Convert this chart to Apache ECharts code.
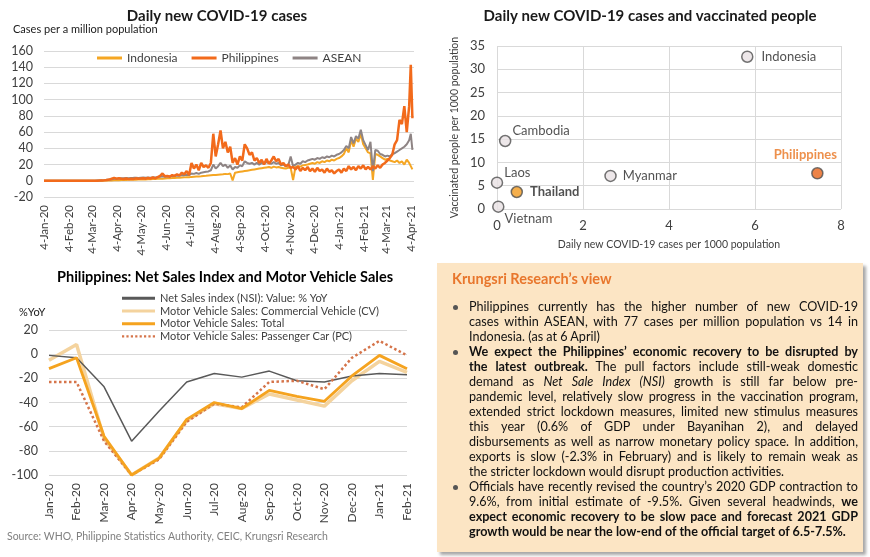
<!DOCTYPE html>
<html><head><meta charset="utf-8">
<script src="https://cdn.jsdelivr.net/npm/echarts@6/dist/echarts.min.js"></script>
<style>
html,body{margin:0;padding:0;background:#fff;width:870px;height:557px;overflow:hidden;}
#chart{position:absolute;left:0;top:0;width:870px;height:557px;}
#box{position:absolute;left:437px;top:263px;width:426px;height:289px;background:#FCE5C4;box-shadow:3px 3px 3px rgba(0,0,0,0.35);font-family:Lato,'Noto Sans',sans-serif;color:#111;}
#box .ttl{position:absolute;left:15px;top:7px;font-size:14.5px;font-weight:bold;color:#E8762C;white-space:nowrap;}
#box .body{position:absolute;left:32px;top:36px;width:389px;}
#box .ln{height:15px;line-height:15px;text-align:justify;text-align-last:justify;position:relative;}
#box .ln.end{text-align-last:left;}
#box .ln.bul::before{content:'';position:absolute;left:-16px;top:6px;width:5px;height:5px;border-radius:50%;background:#555;}
</style></head>
<body>
<div id="chart"></div>
<div id="box"><div class="ttl">Krungsri Research’s view</div><div class="body" id="body"></div></div>
<script>
// ---------- Daily new COVID-19 cases (per million) ----------
const covidDays = [0,3,6,9,12,15,18,21,24,27,30,33,36,39,42,45,48,51,54,57,60,63,66,69,72,75,78,81,84,87,90,93,96,99,102,105,108,111,114,117,120,123,126,129,132,135,138,141,144,147,150,153,156,159,162,165,168,171,174,177,180,183,186,189,192,195,198,201,204,207,210,213,216,219,222,225,228,231,234,237,240,243,246,249,252,255,258,261,264,267,270,273,276,279,282,285,288,291,294,297,300,303,306,309,312,315,318,321,324,327,330,333,336,339,342,345,348,351,354,357,360,363,366,369,372,375,378,381,384,387,390,393,396,399,402,405,408,411,414,417,420,423,426,429,432,435,438,441,444,447,450,453,455,457];
const indonesia = [0,0,0,0,0,0,0,0,0,0,0,0,0,0,0,0,0,0,0,0,
0,0,0,0.1,0.1,0.2,0.3,0.3,0.4,0.5,0.6,0.7,1,0.9,1,1.2,1.3,1.2,1.4,1.5,1.6,1.8,1.7,2,1.9,2.1,2.3,2.4,2.6,2.5,2.8,3,3.2,3.3,3.5,3.6,3.8,4,4.2,4.5,4.3,4.8,5,5.2,5.4,5.6,6,6.2,6.5,6.8,7,7.2,7.5,7.8,8,8.5,8.2,9,0.5,10,10.5,11,11.5,12,12.5,13,13.5,14,14.5,15,15.5,16,16.5,17,16,17.5,16.5,17,16,15.5,15,16,16,1,17,18,17.5,19,19.5,20,21,22,21,23,22,24,23,25,24,26,25,27,28,30,33,40,35,50,42,52,48,58,45,40,35,34,1,33,32,30,28,26,27,25,24,23,25,22,24,20,26,22,18,14];
const philippines = [0,0,0,0,0,0,0,0,0,0,0,0,0,0,0,0,0,0,0,0,
0,0,0.1,0.2,0.3,0.5,1,1.5,2.5,3.5,2.5,3,2.5,2.2,2.8,2,2.5,2.2,3,2.4,2.8,3.2,2.5,3.5,2.8,4,3,4.5,6,9,5.5,6,5,7,6,8,6.5,10,8,12,7,22,15,20,13,22,17,19,16,22,58,30,45,62,40,48,35,42,22,28,20,30,25,45,40,32,35,25,28,22,26,20,27,21,25,30,24,27,20,22,18,20,16,17,14,18,12,16,13,17,12,15,11,16,12,14,10,15,11,13,9,12,14,10,15,12,18,14,17,13,18,15,19,14,17,14,18,15,19,16,20,22,25,28,32,45,50,75,70,92,60,92,143,77];
const asean = [0,0,0,0,0,0,0,0,0,0,0,0,0,0,0,0,0,0,0,0,
0,0.1,0.2,0.3,0.5,0.8,1.2,1.5,2,2.5,2.5,2.8,3,3.2,3.3,3.2,3.5,3.6,3.8,3.5,3.7,3.9,3.6,4,3.8,4.2,4,4.5,5,5.5,5,5.5,5.2,6,5.8,6.5,6.2,7,6.8,7.5,7,9,8.5,9.5,8.5,10,10.5,11,11.5,13,20,15,18,22,18,20,16,19,14,17,16,19,18,24,22,21,22,20,22,20,22,21,23,22,21,23,21,22,19,20,18,19,30,18,20,22,21,24,23,25,26,27,26,28,27,29,28,30,29,31,30,32,33,35,38,43,40,54,46,55,52,63,50,44,38,48,12,38,37,33,32,30,31,30,33,34,36,38,40,42,45,50,58,38];
const covidTickDays = [0,31,60,91,121,152,182,213,244,274,305,335,366,397,425,456];
const covidTickLabels = ['4-Jan-20','4-Feb-20','4-Mar-20','4-Apr-20','4-May-20','4-Jun-20','4-Jul-20','4-Aug-20','4-Sep-20','4-Oct-20','4-Nov-20','4-Dec-20','4-Jan-21','4-Feb-21','4-Mar-21','4-Apr-21'];

// ---------- Scatter: cases vs vaccinated ----------
const scatterNames = ['Indonesia','Cambodia','Laos','Thailand','Vietnam','Myanmar','Philippines'];
const scatterCases = [5.82,0.19,0.0,0.46,0.03,2.64,7.45];
const scatterVacc = [32.7,14.6,5.65,3.65,0.5,7.1,7.67];

// ---------- Philippines NSI & motor vehicle sales ----------
const months = ['Jan-20','Feb-20','Mar-20','Apr-20','May-20','Jun-20','Jul-20','Aug-20','Sep-20','Oct-20','Nov-20','Dec-20','Jan-21','Feb-21'];
const nsi = [-1,-3,-27,-72,-47,-23,-16,-19,-14,-22,-23,-18,-16,-17];
const cvSales = [-5,8,-70,-100,-86,-55,-41,-45,-33,-38,-43,-22,-6,-15];
const totalSales = [-12,-3,-68,-100,-86,-54,-40,-45,-30,-35,-39,-18,-1,-12];
const pcSales = [-23,-23,-72,-100,-87,-56,-41,-44,-23,-22,-29,-3,11,-1];

const FONT = 'Lato';
const GRID_C = '#D9D9D9';
const TXT = '#404040';

const scatterStyle = {
  Indonesia:  {fill:'#E9E1E3', label:{position:'right', offset:[3,0]}},
  Cambodia:   {fill:'#E9E1E3', label:{position:'right', offset:[-4,-10]}},
  Laos:       {fill:'#E9E1E3', label:{position:'right', offset:[-4,-10]}},
  Thailand:   {fill:'#F39B1F', label:{position:'right', offset:[2,0], fontWeight:'bold'}},
  Vietnam:    {fill:'#E9E1E3', label:{position:'right', offset:[-5,12]}},
  Myanmar:    {fill:'#E9E1E3', label:{position:'right', offset:[1,0]}},
  Philippines:{fill:'#E8641A', label:{position:'top', offset:[-12,-1], fontWeight:'bold', color:'#E8741F'}}
};

const chart = echarts.init(document.getElementById('chart'), null, {renderer:'canvas'});
const line = (name, xi, yi, vals, color, width, z, type) => ({
  name, type:'line', xAxisIndex:xi, yAxisIndex:yi, data: vals, showSymbol:false, symbol:'none',
  lineStyle:{color, width, type: type || 'solid'}, itemStyle:{color}, z, animation:false
});
const DOTTED_ICON = 'path://M0,0h2v2h-2zM4,0h2v2h-2zM8,0h2v2h-2zM12,0h2v2h-2zM16,0h2v2h-2zM20,0h2v2h-2zM24,0h2v2h-2zM28,0h2v2h-2z';

const option = {
  animation:false,
  textStyle:{fontFamily:FONT},
  grid:[
    {left:44, top:51, width:370, height:146},
    {left:497, top:46, width:344, height:163},
    {left:49, top:330, width:358, height:145}
  ],
  xAxis:[
    {gridIndex:0, type:'value', min:0, max:459,
     axisLine:{show:false}, axisTick:{show:false}, splitLine:{show:false},
     axisLabel:{customValues:covidTickDays, formatter:(v)=>covidTickLabels[covidTickDays.indexOf(v)], rotate:90, fontSize:11.5, color:TXT, margin:8, fontFamily:FONT}},
    {gridIndex:1, type:'value', min:0, max:8, interval:2,
     axisLine:{show:false}, axisTick:{show:false}, splitLine:{show:true, lineStyle:{color:GRID_C}},
     axisLabel:{fontSize:13, color:TXT, margin:10, fontFamily:FONT},
     name:'Daily new COVID-19 cases per 1000 population', nameLocation:'middle', nameGap:30,
     nameTextStyle:{fontSize:10.5, color:TXT, fontFamily:FONT}},
    {gridIndex:2, type:'category', data:months, boundaryGap:false,
     axisLine:{show:false}, axisTick:{show:false},
     axisLabel:{rotate:90, interval:0, fontSize:12, color:TXT, margin:8, fontFamily:FONT}}
  ],
  yAxis:[
    {gridIndex:0, type:'value', min:-20, max:160, interval:20,
     axisLine:{show:false}, axisTick:{show:false}, splitLine:{lineStyle:{color:GRID_C}},
     axisLabel:{fontSize:12.5, color:TXT, margin:11, fontFamily:FONT}},
    {gridIndex:1, type:'value', min:0, max:35, interval:5,
     axisLine:{show:false}, axisTick:{show:false}, splitLine:{lineStyle:{color:GRID_C}},
     axisLabel:{fontSize:13, color:TXT, margin:12, fontFamily:FONT},
     name:'Vaccinated people per 1000 population', nameLocation:'middle', nameGap:37, nameRotate:90,
     nameTextStyle:{fontSize:10.5, color:TXT, fontFamily:FONT}},
    {gridIndex:2, type:'value', min:-100, max:20, interval:20,
     axisLine:{show:false}, axisTick:{show:false}, splitLine:{lineStyle:{color:GRID_C}},
     axisLabel:{fontSize:12.5, color:TXT, margin:11, fontFamily:FONT}}
  ],
  legend:[
    {data:['Indonesia','Philippines','ASEAN'], left:97, top:52, padding:0, itemWidth:25, itemHeight:3, itemGap:14, icon:'rect',
     selectedMode:false, textStyle:{fontSize:12, color:TXT, fontFamily:FONT}},
    {data:[
       {name:'Net Sales index (NSI): Value: % YoY', icon:'rect'},
       {name:'Motor Vehicle Sales: Commercial Vehicle (CV)', icon:'rect'},
       {name:'Motor Vehicle Sales: Total', icon:'rect'},
       {name:'Motor Vehicle Sales: Passenger Car (PC)', icon:DOTTED_ICON}],
     orient:'vertical', left:122, top:292, padding:0, itemWidth:33, itemHeight:3, itemGap:0,
     selectedMode:false, textStyle:{fontSize:11, lineHeight:12.7, color:TXT, fontFamily:FONT}}
  ],
  graphic:[
    {type:'text', x:217, y:16, style:{text:'Daily new COVID-19 cases', align:'center', verticalAlign:'middle', fontSize:15, fontWeight:'bold', fontFamily:FONT, fill:'#1a1a1a'}},
    {type:'text', x:13, y:29, style:{text:'Cases per a million population', align:'left', verticalAlign:'middle', fontSize:11, fontFamily:FONT, fill:'#1a1a1a'}},
    {type:'text', x:650, y:16, style:{text:'Daily new COVID-19 cases and vaccinated people', align:'center', verticalAlign:'middle', fontSize:15, fontWeight:'bold', fontFamily:FONT, fill:'#1a1a1a'}},
    {type:'text', x:225, y:277, style:{text:'Philippines: Net Sales Index and Motor Vehicle Sales', align:'center', verticalAlign:'middle', fontSize:14.5, fontWeight:'bold', fontFamily:FONT, fill:'#000'}},
    {type:'text', x:19, y:312, style:{text:'%YoY', align:'left', verticalAlign:'middle', fontSize:11, fontFamily:FONT, fill:'#1a1a1a'}},
    {type:'text', x:7, y:537, style:{text:'Source: WHO, Philippine Statistics Authority, CEIC, Krungsri Research', align:'left', verticalAlign:'middle', fontSize:10.5, fontFamily:FONT, fill:'#7F7F7F'}}
  ],
  series:[
    line('Indonesia',0,0,covidDays.map((d,i)=>[d,indonesia[i]]),'#F5A623',2,3),
    line('Philippines',0,0,covidDays.map((d,i)=>[d,philippines[i]]),'#F26A1B',2.5,5),
    line('ASEAN',0,0,covidDays.map((d,i)=>[d,asean[i]]),'#8E8484',2,4),
    {
      name:'countries', type:'scatter', xAxisIndex:1, yAxisIndex:1, symbolSize:11, z:5,
      data: scatterNames.map((n,i)=>{
        const s = scatterStyle[n];
        return {name:n, value:[scatterCases[i], scatterVacc[i]],
          itemStyle:{color:s.fill, borderColor:'#505050', borderWidth:1.5},
          label:Object.assign({show:true, formatter:n, fontSize:13, color:'#262626', fontFamily:FONT, distance:5}, s.label)};
      })
    },
    line('Net Sales index (NSI): Value: % YoY',2,2,nsi,'#595959',1.5,3),
    line('Motor Vehicle Sales: Commercial Vehicle (CV)',2,2,cvSales,'#F4D39E',3.5,2),
    line('Motor Vehicle Sales: Total',2,2,totalSales,'#F5A31F',2.8,5),
    line('Motor Vehicle Sales: Passenger Car (PC)',2,2,pcSales,'#D5744A',2.5,4,'dotted')
  ]
};
chart.setOption(option);

// ---------- Text box ----------
const viewLines = [
  ['Philippines currently has the higher number of new COVID-19', 'bul'],
  ['cases within ASEAN, with 77 cases per million population vs 14 in', ''],
  ['Indonesia. (as at 6 April)', 'end'],
  ['<b>We expect the Philippines’ economic recovery to be disrupted by</b>', 'bul'],
  ['<b>the latest outbreak.</b> The pull factors include still-weak domestic', ''],
  ['demand as <i>Net Sale Index (NSI)</i> growth is still far below pre-', ''],
  ['pandemic level, relatively slow progress in the vaccination program,', ''],
  ['extended strict lockdown measures, limited new stimulus measures', ''],
  ['this year (0.6% of GDP under Bayanihan 2), and delayed', ''],
  ['disbursements as well as narrow monetary policy space. In addition,', ''],
  ['exports is slow (-2.3% in February) and is likely to remain weak as', ''],
  ['the stricter lockdown would disrupt production activities.', 'end'],
  ['Officials have recently revised the country’s 2020 GDP contraction to', 'bul'],
  ['9.6%, from initial estimate of -9.5%. Given several headwinds, <b>we</b>', ''],
  ['<b>expect economic recovery to be slow pace and forecast 2021 GDP</b>', ''],
  ['<b>growth would be near the low-end of the official target of 6.5-7.5%.</b>', 'end']
];
const body = document.getElementById('body');
body.innerHTML = viewLines.map(l => '<div class="ln ' + l[1] + '">' + l[0] + '</div>').join('');
const meas = document.createElement('span');
meas.style.cssText = 'position:absolute;visibility:hidden;white-space:nowrap;font-family:Lato,sans-serif;';
document.body.appendChild(meas);
let fs = 12.6;
for (; fs > 10; fs -= 0.1) {
  meas.style.fontSize = fs + 'px';
  let maxW = 0;
  viewLines.forEach(l => { meas.innerHTML = l[0]; maxW = Math.max(maxW, meas.getBoundingClientRect().width); });
  if (maxW <= 388) break;
}
body.style.fontSize = fs + 'px';
meas.remove();
</script>
</body></html>
